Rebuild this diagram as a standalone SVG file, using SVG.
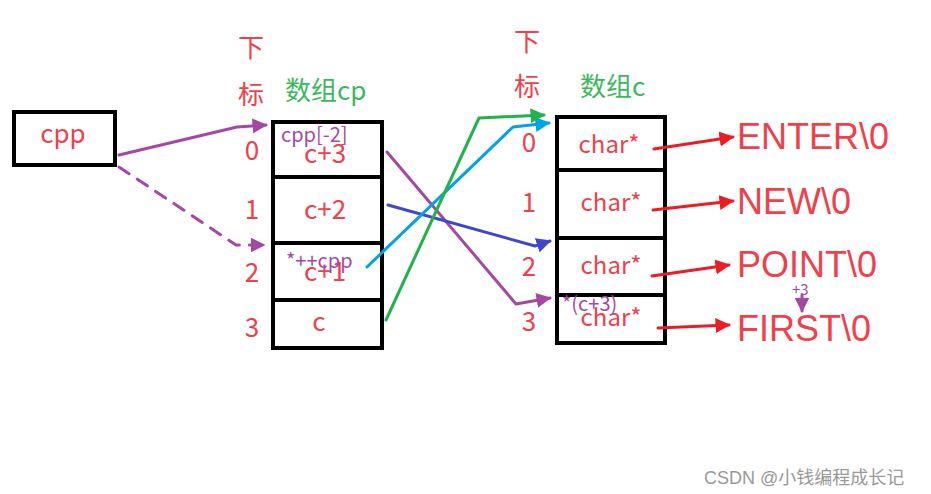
<svg xmlns="http://www.w3.org/2000/svg" width="931" height="494" viewBox="0 0 931 494">
<defs>
<style>
.box{fill:#fff;stroke:#000;stroke-width:4}
.sep{stroke:#000;stroke-width:4}
.t{font-family:"Noto Sans CJK SC","Liberation Sans",sans-serif;fill:#f0404a}
.big{font-size:26px}
.cell{font-size:24px;text-anchor:middle}
.str{font-size:36px;font-family:"Liberation Sans","Noto Sans CJK SC",sans-serif;fill:#f0404a}
.g{font-family:"Noto Sans CJK SC",sans-serif;fill:#3cb85c;font-size:26px}
.p{font-family:"Noto Sans CJK SC","Liberation Sans",sans-serif;fill:#a349a4;font-size:20px}
.ln{fill:none;stroke-width:3;stroke-linecap:round;stroke-linejoin:round}
</style>
<marker id="aP" viewBox="0 0 10 10" refX="9" refY="5" markerWidth="5" markerHeight="5" orient="auto"><path d="M0,0L10,5L0,10z" fill="#a349a4"/></marker>
<marker id="aR" viewBox="0 0 10 10" refX="9" refY="5" markerWidth="5" markerHeight="5" orient="auto"><path d="M0,0L10,5L0,10z" fill="#ed1c24"/></marker>
<marker id="aG" viewBox="0 0 10 10" refX="9" refY="5" markerWidth="5" markerHeight="5" orient="auto"><path d="M0,0L10,5L0,10z" fill="#22b14c"/></marker>
<marker id="aB" viewBox="0 0 10 10" refX="9" refY="5" markerWidth="5" markerHeight="5" orient="auto"><path d="M0,0L10,5L0,10z" fill="#00a2e8"/></marker>
<marker id="aI" viewBox="0 0 10 10" refX="9" refY="5" markerWidth="5" markerHeight="5" orient="auto"><path d="M0,0L10,5L0,10z" fill="#3f48cc"/></marker>
</defs>
<rect width="931" height="494" fill="#fff"/>

<g id="cpp">
<rect class="box" x="14" y="112" width="101" height="53"/>
<text class="t big" x="63" y="143" text-anchor="middle">cpp</text>
</g>

<g id="labels-cp">
<text class="t big" x="251" y="57" text-anchor="middle">下</text>
<text class="t big" x="251" y="104" text-anchor="middle">标</text>
<text class="g" x="285" y="100">数组cp</text>
<text class="t big" x="252" y="160" text-anchor="middle">0</text>
<text class="t big" x="252" y="219" text-anchor="middle">1</text>
<text class="t big" x="252" y="282" text-anchor="middle">2</text>
<text class="t big" x="252" y="337" text-anchor="middle">3</text>
</g>

<g id="array-cp">
<rect class="box" x="273" y="122" width="109" height="226"/>
<line class="sep" x1="273" y1="177" x2="382" y2="177"/>
<line class="sep" x1="273" y1="243" x2="382" y2="243"/>
<line class="sep" x1="273" y1="300" x2="382" y2="300"/>
<text class="t big" x="325" y="163" text-anchor="middle">c+3</text>
<text class="t big" x="325" y="219" text-anchor="middle">c+2</text>
<text class="t big" x="325" y="281" text-anchor="middle">c+1</text>
<text class="t big" x="319" y="331" text-anchor="middle">c</text>
</g>

<g id="labels-c">
<text class="t big" x="527" y="51" text-anchor="middle">下</text>
<text class="t big" x="527" y="96" text-anchor="middle">标</text>
<text class="g" x="580" y="96">数组c</text>
<text class="t big" x="529" y="152" text-anchor="middle">0</text>
<text class="t big" x="529" y="212" text-anchor="middle">1</text>
<text class="t big" x="529" y="276" text-anchor="middle">2</text>
<text class="t big" x="529" y="331" text-anchor="middle">3</text>
</g>

<g id="array-c">
<rect class="box" x="557" y="117" width="108" height="226"/>
<line class="sep" x1="557" y1="170" x2="665" y2="170"/>
<line class="sep" x1="557" y1="238" x2="665" y2="238"/>
<line class="sep" x1="557" y1="295" x2="665" y2="295"/>
<text class="t cell" x="609" y="153">char*</text>
<text class="t cell" x="611" y="211">char*</text>
<text class="t cell" x="611" y="274">char*</text>
<text class="t cell" x="611" y="326">char*</text>
</g>

<g id="strings">
<text class="str" x="737" y="149">ENTER\0</text>
<text class="str" x="737" y="214">NEW\0</text>
<text class="str" x="737" y="277">POINT\0</text>
<text class="str" x="737" y="341">FIRST\0</text>
</g>

<g id="connectors">
<path class="ln" stroke="#a349a4" d="M119,155 L237,127 L266,125" marker-end="url(#aP)"/>
<path class="ln" stroke="#a349a4" stroke-dasharray="12,10" d="M119,167 L236,245 L264,245" marker-end="url(#aP)"/>
<path class="ln" stroke="#a349a4" d="M387,152 L516,304 L550,298" marker-end="url(#aP)"/>
<path class="ln" stroke="#3f48cc" d="M388,205 L535,246 L550,241" marker-end="url(#aI)"/>
<path class="ln" stroke="#00a2e8" d="M367,267 L513,127 L549,123" marker-end="url(#aB)"/>
<path class="ln" stroke="#22b14c" d="M386,320 L479,118 L544,115" marker-end="url(#aG)"/>
<line class="ln" stroke="#ed1c24" x1="654" y1="149" x2="733" y2="137" marker-end="url(#aR)"/>
<line class="ln" stroke="#ed1c24" x1="653" y1="210" x2="733" y2="201" marker-end="url(#aR)"/>
<line class="ln" stroke="#ed1c24" x1="652" y1="276" x2="729" y2="265" marker-end="url(#aR)"/>
<line class="ln" stroke="#ed1c24" x1="658" y1="328" x2="729" y2="325" marker-end="url(#aR)"/>
<line class="ln" stroke="#a349a4" stroke-width="2" x1="802" y1="295" x2="802" y2="311" marker-end="url(#aP)"/>
</g>

<g id="notes">
<text class="p" x="281" y="142">cpp[-2]</text>
<text class="p" x="286" y="268">*++cpp</text>
<text class="p" x="562" y="311">*(c+3)</text>
<text class="p" x="792" y="295" style="font-size:15px">+3</text>
</g>

<text x="704" y="484" style="font-family:'Liberation Sans','Noto Sans CJK SC',sans-serif;font-size:18px;fill:#999">CSDN @小钱编程成长记</text>
</svg>
